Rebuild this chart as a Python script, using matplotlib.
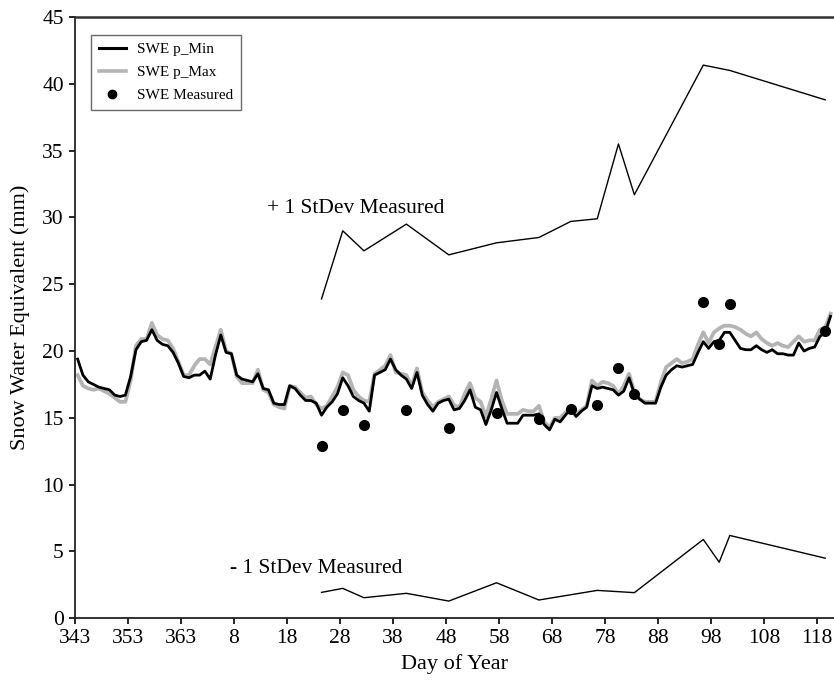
import numpy as np
import matplotlib
matplotlib.use("Agg")
import matplotlib.pyplot as plt
from matplotlib.lines import Line2D

plt.rcParams['font.family'] = ['Liberation Serif', 'DejaVu Serif']

# day index 0 = day of year 343 (daily model output, category-centred)
swe_p_min = [
    19.4, 18.2, 17.7, 17.5, 17.3, 17.2, 17.1, 16.7, 16.6, 16.7,
    18.1, 20.1, 20.7, 20.8, 21.6, 20.8, 20.5, 20.4, 19.9, 19.1,
    18.1, 18.0, 18.2, 18.2, 18.5, 17.9, 19.7, 21.2, 19.9, 19.8,
    18.2, 17.9, 17.8, 17.7, 18.3, 17.2, 17.1, 16.1, 16.0, 16.0,
    17.4, 17.2, 16.7, 16.3, 16.3, 16.1, 15.2, 15.8, 16.2, 16.8,
    18.0, 17.4, 16.6, 16.3, 16.1, 15.5, 18.2, 18.4, 18.6, 19.4,
    18.6, 18.2, 17.9, 17.2, 18.4, 16.7, 16.0, 15.5, 16.1, 16.3,
    16.4, 15.6, 15.7, 16.3, 17.1, 15.8, 15.6, 14.5, 15.6, 16.9,
    15.7, 14.6, 14.6, 14.6, 15.2, 15.2, 15.2, 15.3, 14.5, 14.1,
    14.9, 14.7, 15.2, 15.7, 15.1, 15.5, 15.8, 17.4, 17.2, 17.3,
    17.2, 17.1, 16.7, 17.0, 18.0, 16.8, 16.4, 16.1, 16.1, 16.1,
    17.3, 18.2, 18.6, 18.9, 18.8, 18.9, 19.0, 19.9, 20.7, 20.2,
    20.7, 20.8, 21.4, 21.4, 20.8, 20.2, 20.1, 20.1, 20.4, 20.1,
    19.9, 20.1, 19.8, 19.8, 19.7, 19.7, 20.6, 20.0, 20.2, 20.3,
    21.1, 21.4, 22.6,
]
swe_p_max = [
    18.2, 17.4, 17.2, 17.1, 17.2, 17.0, 16.8, 16.5, 16.2, 16.2,
    17.8, 20.4, 20.9, 20.9, 22.1, 21.2, 20.9, 20.8, 20.2, 19.2,
    18.2, 18.2, 18.9, 19.4, 19.4, 19.0, 20.3, 21.6, 20.0, 19.8,
    18.1, 17.6, 17.6, 17.6, 18.6, 17.1, 16.9, 16.0, 15.8, 15.7,
    17.4, 17.3, 16.9, 16.5, 16.6, 16.0, 15.7, 15.9, 16.6, 17.3,
    18.4, 18.2, 17.1, 16.6, 16.3, 16.2, 18.3, 18.6, 18.9, 19.7,
    18.4, 18.3, 18.2, 17.4, 18.7, 16.9, 16.3, 15.8, 16.2, 16.4,
    16.6, 15.95, 15.8, 16.8, 17.6, 16.5, 16.2, 15.1, 16.4, 17.8,
    16.3, 15.3, 15.3, 15.3, 15.6, 15.5, 15.5, 15.9, 14.7, 14.3,
    15.0, 15.0, 15.4, 15.8, 15.3, 15.6, 15.9, 17.8, 17.4, 17.7,
    17.6, 17.4, 16.8, 17.4, 18.3, 16.9, 16.4, 16.2, 16.2, 16.2,
    17.7, 18.8, 19.1, 19.4, 19.1, 19.2, 19.4, 20.5, 21.4, 20.6,
    21.4, 21.7, 21.9, 21.9, 21.8, 21.6, 21.3, 21.1, 21.4, 20.9,
    20.6, 20.4, 20.6, 20.4, 20.3, 20.7, 21.1, 20.7, 20.8, 20.8,
    21.6, 21.8, 22.8,
]

measured_idx = [46, 50, 54, 62, 70, 79, 87, 93, 98, 102, 105, 118, 121, 123, 141]
measured_swe = [12.9, 15.6, 14.5, 15.6, 14.25, 15.4, 14.9, 15.65, 16.0, 18.75,
                16.75, 23.7, 20.5, 23.55, 21.5]

plus_sd_idx = [46, 50, 54, 62, 70, 79, 87, 93, 98, 102, 105, 118, 123, 141]
plus_sd_val = [23.9, 29.0, 27.5, 29.5, 27.2, 28.1, 28.5, 29.7, 29.9, 35.5,
               31.7, 41.4, 41.0, 38.8]
minus_sd_idx = [46, 50, 54, 62, 70, 79, 87, 98, 105, 118, 121, 123, 141]
minus_sd_val = [1.94, 2.24, 1.54, 1.87, 1.29, 2.66, 1.37, 2.09, 1.92, 5.9,
                4.2, 6.2, 4.5]

tick_pos = list(range(0, 141, 10))
tick_labels = ['343', '353', '363', '8', '18', '28', '38', '48', '58', '68',
               '78', '88', '98', '108', '118']

fig = plt.figure(figsize=(8.34, 6.91), dpi=100)
ax = fig.add_axes([0.0899, 0.1052, 0.9101, 0.8702])

xd = np.arange(len(swe_p_min)) + 0.5
ax.plot(xd, swe_p_max, color='#b4b4b4', lw=2.7, zorder=2, solid_joinstyle='round')
ax.plot(xd, swe_p_min, color='black', lw=2.0, zorder=3, solid_joinstyle='round')
ax.plot(np.array(plus_sd_idx) + 0.5, plus_sd_val, color='black', lw=1.0, zorder=2)
ax.plot(np.array(minus_sd_idx) + 0.5, minus_sd_val, color='black', lw=1.0, zorder=2)
ax.plot(np.array(measured_idx) + 0.5, measured_swe, 'o', color='black',
        markersize=7, zorder=4, linestyle='none')

ax.text(36.2, 30.7, '+ 1 StDev Measured', fontsize=15.5, ha='left', va='center')
ax.text(29.2, 3.75, '- 1 StDev Measured', fontsize=15.5, ha='left', va='center')

ax.set_xlim(0, 143.15)
ax.set_ylim(0, 45)
ax.set_xticks(tick_pos)
ax.set_xticklabels(tick_labels)
ax.set_yticks(range(0, 46, 5))
ax.tick_params(direction='out', length=4, width=1.2, labelsize=15.5, pad=4)
ax.set_xlabel('Day of Year', fontsize=16, labelpad=4)
ax.set_ylabel('Snow Water Equivalent (mm)', fontsize=16, labelpad=9)

for s in ['left', 'bottom']:
    ax.spines[s].set_linewidth(1.3)
    ax.spines[s].set_color('#222222')
ax.spines['top'].set_linewidth(1.8)
ax.spines['top'].set_color('#333333')
ax.spines['right'].set_visible(False)

handles = [
    Line2D([0], [0], color='black', lw=2.2),
    Line2D([0], [0], color='#b4b4b4', lw=2.6),
    Line2D([0], [0], marker='o', color='black', linestyle='none', markersize=6),
]
leg = ax.legend(handles, ['SWE p_Min', 'SWE p_Max', 'SWE Measured'],
                loc='upper left', bbox_to_anchor=(0.021, 0.970), fontsize=11,
                frameon=True, fancybox=False, borderaxespad=0, handlelength=1.8,
                labelspacing=0.6, borderpad=0.5, handletextpad=0.7)
leg.get_frame().set_edgecolor('#444444')
leg.get_frame().set_linewidth(1.0)

fig.savefig('out.png', dpi=100)
